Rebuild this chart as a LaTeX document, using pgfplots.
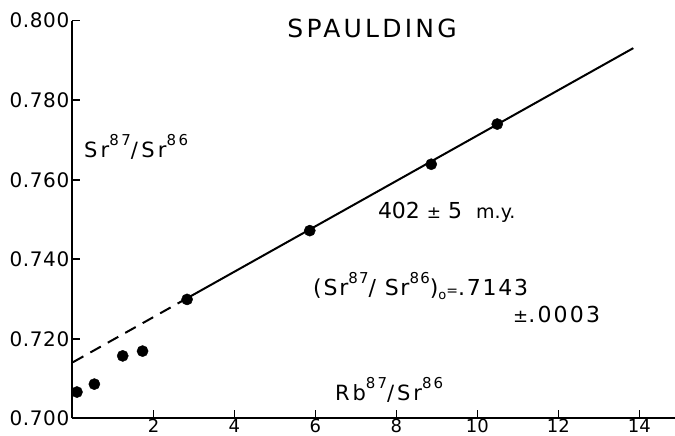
\documentclass[border=0pt]{standalone}
\usepackage{fontspec}
\setmainfont{DejaVu Sans}
\usepackage{pgfplots}
\pgfplotsset{compat=1.18}
\newcommand{\up}[1]{\raisebox{0.55em}{\fontsize{15bp}{15bp}\selectfont #1}}
\begin{document}
\begin{tikzpicture}
\begin{axis}[name=ax, at={(0,0)}, anchor=south west, scale only axis,
  width=602.5bp, height=397.6bp,
  xmin=0, xmax=14.88, ymin=0.7, ymax=0.8,
  axis x line=bottom, axis y line=left,
  axis line style={-, line width=2bp, black},
  xtick={2,4,6,8,10,12,14},
  ytick={0.70,0.72,0.74,0.76,0.78,0.80},
  xtick align=inside, ytick align=inside,
  major tick length=8bp,
  tick style={line width=1.6bp, black},
  y tick label style={font=\fontsize{20bp}{22bp}\selectfont\addfontfeature{LetterSpace=3}, inner sep=3bp},
  x tick label style={font=\fontsize{18bp}{20bp}\selectfont, inner sep=0.5bp},
  /pgf/number format/assume math mode=true,
  y tick label style={/pgf/number format/fixed, /pgf/number format/fixed zerofill, /pgf/number format/precision=3},
  clip=false]
\addplot[only marks, mark=*, mark size=5.6bp, black] coordinates {
 (0.11,0.7066) (0.54,0.7086) (1.24,0.7157) (1.73,0.7169)
 (2.83,0.7299) (5.86,0.7472) (8.86,0.7639) (10.49,0.7740)};
\addplot[black, line width=2bp, dash pattern=on 12bp off 8bp] coordinates {(0.01,0.7141) (2.83,0.7302)};
\addplot[black, line width=2bp] coordinates {(2.83,0.7302) (13.85,0.7931)};
\node[anchor=base, font=\fontsize{25bp}{28bp}\selectfont\addfontfeature{LetterSpace=13}] at (axis cs:7.40,0.7957) {SPAULDING};
\node[anchor=base west, inner sep=0pt, font=\fontsize{21bp}{24bp}\selectfont\addfontfeature{LetterSpace=16}] at (axis cs:0.28,0.7657) {Sr\up{87}/Sr\up{86}};
\node[anchor=base west, inner sep=0pt, font=\fontsize{22bp}{24bp}\selectfont] at (axis cs:7.54,0.7503) {402 {\fontsize{17bp}{17bp}\selectfont ±} 5 \ {\fontsize{19bp}{19bp}\selectfont m.y.}};
\node[anchor=base west, inner sep=0pt, font=\fontsize{22bp}{24bp}\selectfont\addfontfeature{LetterSpace=8}] at (axis cs:5.94,0.7308) {(Sr\up{87}/ Sr\up{86})\raisebox{-0.15em}{\fontsize{13bp}{13bp}\selectfont o}{\fontsize{14bp}{14bp}\selectfont =}.7143};
\node[anchor=base west, inner sep=0pt, font=\fontsize{22bp}{24bp}\selectfont\addfontfeature{LetterSpace=10}] at (axis cs:10.88,0.7240) {{\fontsize{18bp}{18bp}\selectfont ±}.0003};
\node[anchor=base west, inner sep=0pt, font=\fontsize{21bp}{24bp}\selectfont\addfontfeature{LetterSpace=14}] at (axis cs:6.48,0.7046) {Rb\up{87}/Sr\up{86}};
\end{axis}
\pgfresetboundingbox
\useasboundingbox ([shift={(-72.5bp,-17.7bp)}]ax.south west) rectangle ([shift={(0bp,20.7bp)}]ax.north east);
\end{tikzpicture}
\end{document}
